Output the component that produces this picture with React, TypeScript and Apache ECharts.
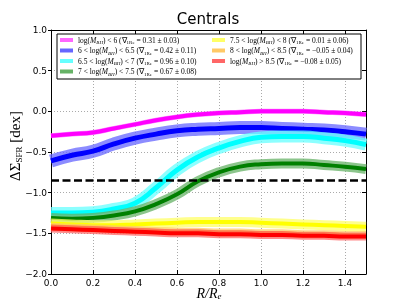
import React, { useEffect, useRef } from "react";
import * as echarts from "echarts";

// ---- data ----
const radius = [0, 0.1, 0.2, 0.3, 0.4, 0.5, 0.6, 0.7, 0.8, 0.9, 1.0, 1.1, 1.2, 1.3, 1.4, 1.5];

const bhLt6 = [-0.30, -0.28, -0.26, -0.21, -0.16, -0.11, -0.07, -0.04, -0.02, -0.01, 0.0, 0.0, 0.0, -0.01, -0.02, -0.04];
const bh6to65 = [-0.61, -0.54, -0.49, -0.40, -0.33, -0.28, -0.24, -0.22, -0.21, -0.20, -0.20, -0.21, -0.22, -0.23, -0.25, -0.28];
const bh65to7 = [-1.25, -1.25, -1.24, -1.20, -1.13, -0.94, -0.72, -0.56, -0.45, -0.37, -0.32, -0.31, -0.31, -0.33, -0.36, -0.41];
const bh7to75 = [-1.31, -1.32, -1.31, -1.28, -1.23, -1.14, -1.02, -0.86, -0.75, -0.68, -0.65, -0.64, -0.64, -0.66, -0.68, -0.71];
const bh75to8 = [-1.38, -1.39, -1.40, -1.40, -1.39, -1.38, -1.37, -1.36, -1.36, -1.36, -1.37, -1.38, -1.39, -1.40, -1.41, -1.42];
const bh8to85 = [-1.42, -1.43, -1.44, -1.45, -1.46, -1.47, -1.48, -1.48, -1.49, -1.49, -1.50, -1.50, -1.51, -1.51, -1.52, -1.52];
const bhGt85 = [-1.44, -1.45, -1.46, -1.47, -1.48, -1.49, -1.50, -1.50, -1.51, -1.51, -1.52, -1.52, -1.53, -1.53, -1.54, -1.54];

const referenceLevel = -0.85;

const binPrefix = ["", "6 < ", "6.5 < ", "7 < ", "7.5 < ", "8 < ", ""];
const binSuffix = [" < 6", " < 6.5", " < 7", " < 7.5", " < 8", " < 8.5", " > 8.5"];
const gradMean = [0.31, 0.42, 0.96, 0.67, 0.01, -0.05, -0.08];
const gradErr = [0.03, 0.11, 0.10, 0.08, 0.06, 0.04, 0.05];

const xTicks = [0, 0.2, 0.4, 0.6, 0.8, 1.0, 1.2, 1.4];
const yTicks = [-2.0, -1.5, -1.0, -0.5, 0.0, 0.5, 1.0];

const seriesValues = [bhLt6, bh6to65, bh65to7, bh7to75, bh75to8, bh8to85, bhGt85];
const coreColors = ["#ff00ff", "#0000ff", "#00ffff", "#008000", "#ffff00", "#ffa500", "#ff0000"];
const bandColors = ["#ff66ff", "#6666ff", "#66ffff", "#66b266", "#ffff66", "#ffc966", "#ff6666"];
const bandWidths = [5, 13, 12, 10, 10, 8, 8];
const coreWidths = [4, 5, 5, 4, 4, 4, 4];

const fmt = (v: number) => (v < 0 ? "−" : "") + Math.abs(v).toFixed(2);

export default function App() {
  const ref = useRef<HTMLDivElement>(null);
  useEffect(() => {
    if (!ref.current) return;
    const chart = echarts.init(ref.current, undefined, { renderer: "svg" });

    const series: any[] = [];
    seriesValues.forEach((vals, i) => {
      const data = radius.map((r, k) => [r, vals[k]]);
      series.push({
        type: "line",
        data,
        smooth: true,
        symbol: "none",
        silent: true,
        lineStyle: { color: bandColors[i], width: bandWidths[i], opacity: 0.75 },
        z: 2 + i,
      });
      series.push({
        type: "line",
        data,
        smooth: true,
        symbol: "none",
        silent: true,
        lineStyle: { color: coreColors[i], width: coreWidths[i] },
        z: 2 + i,
      });
    });
    series.push({
      type: "line",
      data: [[0, referenceLevel], [1.5, referenceLevel]],
      symbol: "none",
      silent: true,
      lineStyle: { color: "#000", width: 2.5, type: [8, 3.5] },
      z: 20,
    });

    const rich = {
      n: { fontFamily: "Liberation Serif", fontSize: 7.5, lineHeight: 10, color: "#000" },
      i: { fontFamily: "Liberation Serif", fontStyle: "italic", fontSize: 7.5, lineHeight: 10, color: "#000" },
      s: { fontFamily: "Liberation Serif", fontStyle: "italic", fontSize: 5, lineHeight: 5, verticalAlign: "bottom", color: "#000" },
      r: { fontFamily: "Liberation Serif", fontSize: 5, lineHeight: 5, verticalAlign: "bottom", color: "#000" },
    };

    const legendItems: any[] = [];
    const rowsY = [40, 50.5, 61, 71.5];
    seriesValues.forEach((_, i) => {
      const col = i < 4 ? 0 : 1;
      const row = i < 4 ? i : i - 4;
      const px = col === 0 ? 60 : 212;
      const y = rowsY[row];
      legendItems.push({
        type: "rect",
        shape: { x: px, y: y - 2, width: 13, height: 4 },
        style: { fill: bandColors[i] },
        z: 101,
      });
      const text =
        `{n|${binPrefix[i]}log(}{i|M}{s|BH}{n|)${binSuffix[i]} (∇}{r|1Re}{n| = ${fmt(gradMean[i])} ± ${gradErr[i].toFixed(2)})}`;
      legendItems.push({
        type: "text",
        x: px + 18,
        y: y,
        z: 101,
        style: { text, rich, verticalAlign: "middle", align: "left", fill: "#000" },
      });
    });

    chart.setOption({
      animation: false,
      grid: { left: 51, right: 41, top: 30, bottom: 31, show: false },
      xAxis: [
        {
          type: "value",
          min: 0,
          max: 1.5,
          interval: 0.2,
          axisLine: { show: true, onZero: false, lineStyle: { color: "#000", width: 1 } },
          axisTick: { show: true, inside: true, length: 4, lineStyle: { color: "#000" } },
          axisLabel: {
            showMaxLabel: false,
            color: "#000",
            fontFamily: "DejaVu Sans",
            fontSize: 9,
            margin: 4,
            formatter: (v: number) => (xTicks.some((t) => Math.abs(t - v) < 1e-6) ? v.toFixed(1) : ""),
          },
          splitLine: { show: true, lineStyle: { color: "#aaa", type: [1, 2], width: 1 } },
        },
        {
          type: "value",
          position: "top",
          min: 0,
          max: 1.5,
          interval: 0.2,
          axisLine: { show: true, onZero: false, lineStyle: { color: "#000", width: 1 } },
          axisTick: { show: true, inside: true, length: 4, lineStyle: { color: "#000" } },
          axisLabel: { show: false },
          splitLine: { show: false },
        },
      ],
      yAxis: [
        {
          type: "value",
          min: -2,
          max: 1,
          interval: 0.5,
          axisLine: { show: true, onZero: false, lineStyle: { color: "#000", width: 1 } },
          axisTick: { show: true, inside: false, length: 3, lineStyle: { color: "#000" } },
          axisLabel: {
            color: "#000",
            fontFamily: "DejaVu Sans",
            fontSize: 9,
            margin: 4,
            formatter: (v: number) => {
              const t = yTicks.find((u) => Math.abs(u - v) < 1e-6);
              return t === undefined ? "" : (t < 0 ? "−" : "") + Math.abs(t).toFixed(1);
            },
          },
          splitLine: { show: true, lineStyle: { color: "#aaa", type: [1, 2], width: 1 } },
        },
        {
          type: "value",
          position: "right",
          min: -2,
          max: 1,
          interval: 0.5,
          axisLine: { show: true, onZero: false, lineStyle: { color: "#000", width: 1 } },
          axisTick: { show: true, inside: true, length: 4, lineStyle: { color: "#000" } },
          axisLabel: { show: false },
          splitLine: { show: false },
        },
      ],
      series,
      graphic: [
        {
          type: "text",
          x: 208,
          y: 19,
          style: { text: "Centrals", fontFamily: "DejaVu Sans", fontSize: 15, fill: "#000", align: "center", verticalAlign: "middle" },
        },
        {
          type: "text",
          x: 209,
          y: 293,
          style: {
            text: "{a|R/R}{b|e}",
            align: "center",
            verticalAlign: "middle",
            rich: {
              a: { fontFamily: "Liberation Serif", fontStyle: "italic", fontSize: 14, lineHeight: 14, color: "#000" },
              b: { fontFamily: "Liberation Serif", fontStyle: "italic", fontSize: 9, lineHeight: 8, verticalAlign: "bottom", color: "#000" },
            },
          },
        },
        {
          type: "text",
          x: 15,
          y: 146,
          rotation: Math.PI / 2,
          style: {
            text: "{a|ΔΣ}{b|SFR}{a| [dex]}",
            align: "center",
            verticalAlign: "middle",
            rich: {
              a: { fontFamily: "Liberation Serif", fontSize: 15, lineHeight: 16, color: "#000" },
              b: { fontFamily: "Liberation Serif", fontSize: 9, lineHeight: 9, verticalAlign: "bottom", color: "#000" },
            },
          },
        },
        {
          type: "rect",
          shape: { x: 57, y: 34, width: 304, height: 45 },
          style: { fill: "#fff", stroke: "#000", lineWidth: 1 },
          z: 100,
        },
        ...legendItems,
      ],
    });
    return () => chart.dispose();
  }, []);
  return <div ref={ref} style={{ position: "fixed", left: 0, top: 0, width: 407, height: 305 }} />;
}
